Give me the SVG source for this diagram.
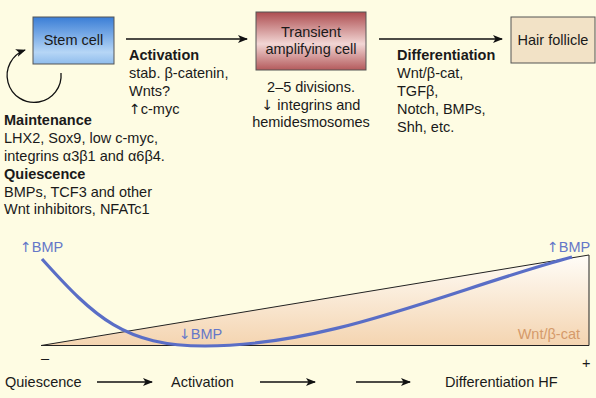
<svg xmlns="http://www.w3.org/2000/svg" width="596" height="398" viewBox="0 0 596 398">
<defs>
<linearGradient id="gStem" x1="0" y1="0" x2="0" y2="1">
<stop offset="0" stop-color="#3a7ed6"/>
<stop offset="0.75" stop-color="#b6d6f6"/>
<stop offset="1" stop-color="#8fbcec"/>
</linearGradient>
<linearGradient id="gTA" x1="0" y1="0" x2="0" y2="1">
<stop offset="0" stop-color="#ad4d50"/>
<stop offset="0.55" stop-color="#f2d6d4"/>
<stop offset="1" stop-color="#b45a5c"/>
</linearGradient>
<linearGradient id="gTri" gradientUnits="userSpaceOnUse" x1="0" y1="255" x2="0" y2="346">
<stop offset="0" stop-color="#fffdf8"/>
<stop offset="1" stop-color="#f4d4b0"/>
</linearGradient>
<marker id="ah" markerWidth="10" markerHeight="8" refX="9" refY="4" orient="auto" markerUnits="userSpaceOnUse">
<path d="M0,0 L10,4 L0,8 L2.5,4 Z" fill="#111"/>
</marker>
<style>
text{font-family:"Liberation Sans",Arial,sans-serif;font-size:14.5px;fill:#1a1a1a}
.b{font-weight:bold}
.ar{font-family:"DejaVu Sans",sans-serif;font-size:14px}
.box{stroke:#555;stroke-width:1}
.con{stroke:#111;stroke-width:1.3;fill:none;marker-end:url(#ah)}
.bmp{fill:#6577c8}
</style>
</defs>
<rect width="596" height="398" fill="#fefce3"/>

<g id="stem-cell">
<rect class="box" x="33" y="17" width="81" height="47" fill="url(#gStem)"/>
<text x="73.5" y="45" text-anchor="middle">Stem cell</text>
</g>
<g id="transient-amplifying-cell">
<rect class="box" x="256" y="12" width="110" height="58" fill="url(#gTA)"/>
<text x="311" y="37" text-anchor="middle">Transient</text>
<text x="311" y="54" text-anchor="middle">amplifying cell</text>
</g>
<g id="hair-follicle">
<rect class="box" x="511" y="17" width="84" height="46" fill="#f2e2c6"/>
<text x="553" y="45" text-anchor="middle">Hair follicle</text>
</g>

<g id="connectors">
<line class="con" x1="126" y1="39" x2="247" y2="39"/>
<line class="con" x1="379" y1="39" x2="502" y2="39"/>
<path class="con" d="M61,73 A27,27 0 1 1 25,50"/>
<line class="con" x1="97" y1="382" x2="152" y2="382"/>
<line class="con" x1="260" y1="382" x2="315" y2="382"/>
<line class="con" x1="356" y1="382" x2="410" y2="382"/>
</g>

<g id="activation-text">
<text class="b" x="129" y="60">Activation</text>
<text x="129" y="78">stab. β-catenin,</text>
<text x="129" y="96">Wnts?</text>
<text x="129" y="114"><tspan class="ar">↑</tspan>c-myc</text>
</g>
<g id="ta-text">
<text x="311" y="92" text-anchor="middle">2–5 divisions.</text>
<text x="311" y="110" text-anchor="middle"><tspan class="ar">↓</tspan> integrins and</text>
<text x="311" y="127" text-anchor="middle">hemidesmosomes</text>
</g>
<g id="differentiation-text">
<text class="b" x="397" y="60">Differentiation</text>
<text x="397" y="78">Wnt/β-cat,</text>
<text x="397" y="96">TGFβ,</text>
<text x="397" y="114">Notch, BMPs,</text>
<text x="397" y="132">Shh, etc.</text>
</g>
<g id="maintenance-text">
<text class="b" x="4" y="125">Maintenance</text>
<text x="4" y="143">LHX2, Sox9, low c-myc,</text>
<text x="4" y="161">integrins α3β1 and α6β4.</text>
<text class="b" x="4" y="179">Quiescence</text>
<text x="4" y="197">BMPs, TCF3 and other</text>
<text x="4" y="214">Wnt inhibitors, NFATc1</text>
</g>

<g id="chart">
<polygon points="41,345.5 589,255 589,345.5" fill="url(#gTri)" stroke="#222" stroke-width="1"/>
<text x="580" y="339" text-anchor="end" style="fill:#d59a6a">Wnt/β-cat</text>
<path d="M42,259 C95,318 125,346 205,346 C330,346 450,290 572,257" fill="none" stroke="#5a6ec6" stroke-width="3.2"/>
<text class="bmp" x="20" y="252"><tspan class="ar bmp">↑</tspan>BMP</text>
<text class="bmp" x="179" y="339"><tspan class="ar bmp">↓</tspan>BMP</text>
<text class="bmp" x="547" y="252"><tspan class="ar bmp">↑</tspan>BMP</text>
<text x="41" y="363">–</text>
<text x="582" y="368">+</text>
</g>

<g id="timeline">
<text x="5" y="387">Quiescence</text>
<text x="171" y="387">Activation</text>
<text x="445" y="387">Differentiation HF</text>
</g>
</svg>
